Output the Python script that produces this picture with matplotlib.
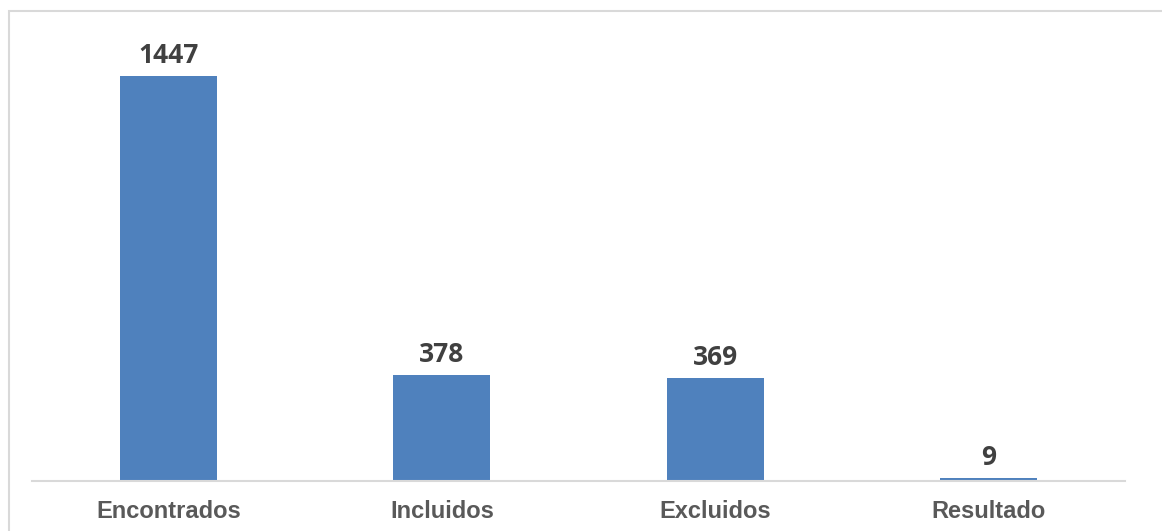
import matplotlib.pyplot as plt
from matplotlib.patches import Rectangle

categorias = ["Encontrados", "Incluidos", "Excluidos", "Resultado"]
valores = [1447, 378, 369, 9]

W, H = 1162, 531
fig = plt.figure(figsize=(W / 100, H / 100), dpi=100)

# chart border (extends past the right/bottom edge like in the original)
fig.patches.append(Rectangle((9 / W, -0.1), 1.2, 1.1 - 11 / H,
                             transform=fig.transFigure, fill=False,
                             edgecolor="#D9D9D9", linewidth=1.5))

ymax = 1600
px_per_unit = 405 / 1447
ax_h = ymax * px_per_unit
ax = fig.add_axes([32 / W, (H - 481) / H, (1125 - 32) / W, ax_h / H])

x = range(len(categorias))
bars = ax.bar(x, valores, width=0.355, color="#4F81BD")
ax.set_xlim(-0.5, len(categorias) - 0.5)
ax.set_ylim(0, ymax)

for b, v in zip(bars, valores):
    ax.annotate(str(v), (b.get_x() + b.get_width() / 2, v),
                xytext=(0, 7), textcoords="offset pixels",
                ha="center", va="bottom", fontsize=19, fontweight="bold",
                family="Open Sans", color="#404040")

ax.set_xticks(list(x))
ax.set_xticklabels(categorias, fontsize=17, fontweight="bold",
                   family="Liberation Sans", color="#595959")
ax.tick_params(axis="x", length=0, pad=14)
ax.set_yticks([])
for s in ["top", "right", "left"]:
    ax.spines[s].set_visible(False)
ax.spines["bottom"].set_color("#D9D9D9")
ax.spines["bottom"].set_linewidth(1.5)

fig.savefig("out.png", dpi=100)
